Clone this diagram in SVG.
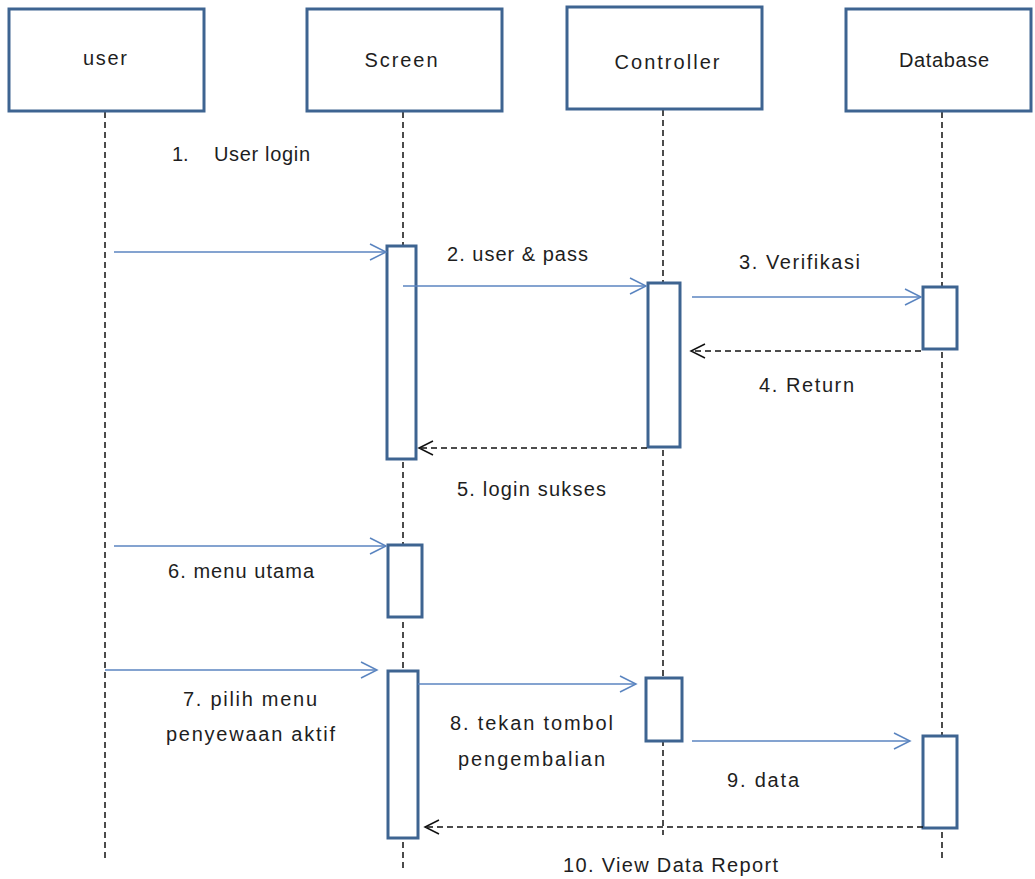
<svg xmlns="http://www.w3.org/2000/svg" width="1035" height="879" viewBox="0 0 1035 879">
<style>
.hdr{fill:#fff;stroke:#3e6491;stroke-width:3}
.act{fill:#fff;stroke:#3e6491;stroke-width:3}
.life{stroke:#111;stroke-width:1.5;stroke-dasharray:6 4;fill:none}
.msg{stroke:#5b85c0;stroke-width:1.5;fill:none}
.ret{stroke:#111;stroke-width:1.5;stroke-dasharray:6 4;fill:none}
text{font-family:"Liberation Sans",Arial,sans-serif;font-size:20px;fill:#1e1e1e}
.c{text-anchor:middle}
</style>
<defs>
<marker id="openBlue" markerWidth="24" markerHeight="18" refX="22" refY="9" orient="auto" markerUnits="userSpaceOnUse">
<path d="M6 1 L22 9 L6 17" fill="none" stroke="#5b85c0" stroke-width="1.5"/>
</marker>
<marker id="openBlack" markerWidth="24" markerHeight="18" refX="22" refY="9" orient="auto" markerUnits="userSpaceOnUse">
<path d="M8 2 L22 9 L8 16" fill="none" stroke="#111" stroke-width="1.5"/>
</marker>
</defs>

<g id="lifelines">
<line class="life" x1="105" y1="112" x2="105" y2="862"/>
<line class="life" x1="403" y1="112" x2="403" y2="870"/>
<line class="life" x1="663" y1="110" x2="663" y2="835"/>
<line class="life" x1="942" y1="112" x2="942" y2="860"/>
</g>

<g id="user"><rect class="hdr" x="9" y="9" width="195" height="102"/><text class="c" x="105" y="65" textLength="44" lengthAdjust="spacing">user</text></g>
<g id="screen"><rect class="hdr" x="307" y="9" width="195" height="102"/><text class="c" x="401" y="67" textLength="73" lengthAdjust="spacing">Screen</text></g>
<g id="controller"><rect class="hdr" x="567" y="7" width="195" height="102"/><text class="c" x="667" y="69" textLength="105" lengthAdjust="spacing">Controller</text></g>
<g id="database"><rect class="hdr" x="846" y="9" width="185" height="102"/><text class="c" x="944" y="67" textLength="90" lengthAdjust="spacing">Database</text></g>

<g id="activations">
<rect class="act" x="387" y="246" width="29" height="213"/>
<rect class="act" x="648" y="283" width="32" height="164"/>
<rect class="act" x="923" y="287" width="34" height="62"/>
<rect class="act" x="388" y="545" width="34" height="72"/>
<rect class="act" x="388" y="671" width="30" height="167"/>
<rect class="act" x="646" y="678" width="36" height="63"/>
<rect class="act" x="923" y="736" width="34" height="92"/>
</g>

<g id="connectors">
<line class="msg" x1="114" y1="252" x2="386" y2="252" marker-end="url(#openBlue)"/>
<line class="msg" x1="403" y1="286" x2="646" y2="286" marker-end="url(#openBlue)"/>
<line class="msg" x1="692" y1="297" x2="921" y2="297" marker-end="url(#openBlue)"/>
<line class="ret" x1="921" y1="351" x2="691" y2="351" marker-end="url(#openBlack)"/>
<line class="ret" x1="647" y1="448" x2="419" y2="448" marker-end="url(#openBlack)"/>
<line class="msg" x1="114" y1="546" x2="386" y2="546" marker-end="url(#openBlue)"/>
<line class="msg" x1="105" y1="670" x2="377" y2="670" marker-end="url(#openBlue)"/>
<line class="msg" x1="418" y1="684" x2="636" y2="684" marker-end="url(#openBlue)"/>
<line class="msg" x1="692" y1="741" x2="910" y2="741" marker-end="url(#openBlue)"/>
<line class="ret" x1="923" y1="827" x2="425" y2="827" marker-end="url(#openBlack)"/>
</g>

<g id="labels">
<text x="172" y="161">1.</text>
<text x="214" y="161" textLength="96" lengthAdjust="spacing">User login</text>
<text x="447" y="261" textLength="141" lengthAdjust="spacing">2. user &amp; pass</text>
<text x="739" y="269" textLength="121" lengthAdjust="spacing">3. Verifikasi</text>
<text x="759" y="392" textLength="95" lengthAdjust="spacing">4. Return</text>
<text x="457" y="496" textLength="149" lengthAdjust="spacing">5. login sukses</text>
<text x="168" y="578" textLength="146" lengthAdjust="spacing">6. menu utama</text>
<text x="183" y="706" textLength="134" lengthAdjust="spacing">7. pilih menu</text>
<text x="166" y="741" textLength="169" lengthAdjust="spacing">penyewaan aktif</text>
<text x="450" y="730" textLength="163" lengthAdjust="spacing">8. tekan tombol</text>
<text x="458" y="766" textLength="147" lengthAdjust="spacing">pengembalian</text>
<text x="727" y="787" textLength="72" lengthAdjust="spacing">9. data</text>
<text x="563" y="872" textLength="215" lengthAdjust="spacing">10. View Data Report</text>
</g>
</svg>
